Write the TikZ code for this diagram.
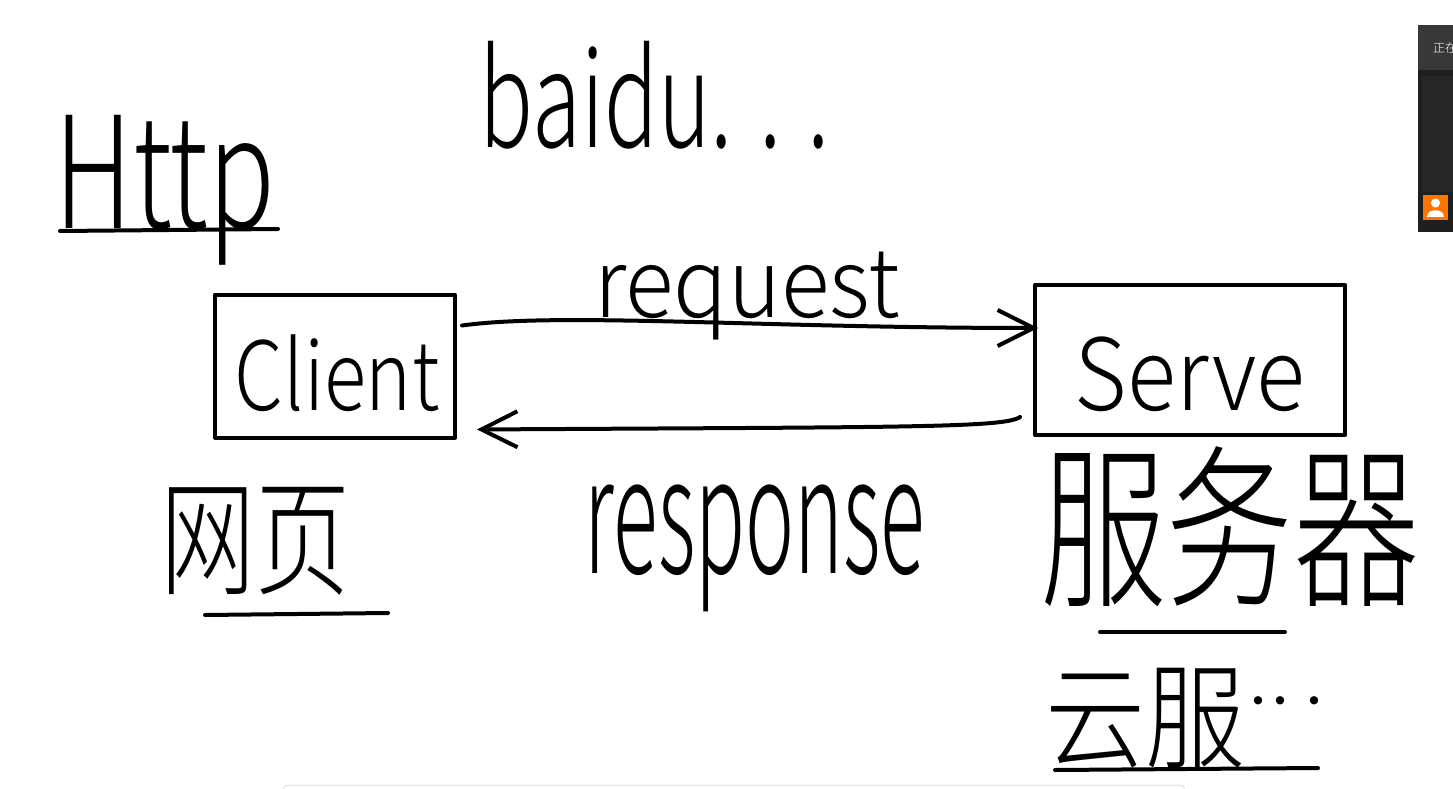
\documentclass[tikz,border=0pt]{standalone}
\usepackage{fontspec}
\usepackage{graphicx}
\newfontfamily\hand{Noto Sans CJK SC Light}
\newfontfamily\cjk{Noto Sans CJK SC Light}
\usetikzlibrary{arrows.meta,calc}
\newcommand\fitto[3]{\resizebox*{#1pt}{#2pt}{#3}}
\begin{document}
\begin{tikzpicture}[x=1pt,y=-1pt, line cap=round, line join=round,
  ink/.style={line width=4pt, draw=black},
  handtext/.style={inner sep=0pt, font=\hand},
  boxshape/.style={draw, line width=4pt, inner sep=0pt},
  barb/.style={-{Straight Barb[length=36pt,width=36pt,line width=4pt]}}]
\clip (0,0) rectangle (1453,789);
\fill[white] (0,0) rectangle (1453,789);

% texts
\node[handtext] (http) at (165,190) {\fitto{220}{150}{Http}};
\node[handtext] (baidu) at (655,95) {\fitto{350}{108}{baidu. . .}};
\node[handtext] (req) at (747,296) {\fitto{305}{88}{request}};
\node[handtext] (resp) at (755,548) {\fitto{340}{127}{response}};
\node[handtext] (wy) at (255,541) {\fitto{190}{108}{\cjk 网页}};
\node[handtext] (fwq) at (1230,527) {\fitto{380}{160}{\cjk 服务器}};
\node[handtext] (yf) at (1145,718) {\fitto{200}{100}{\cjk 云服}};
\node[handtext, anchor=west, font=\cjk\fontsize{44}{44}\selectfont] (yfdots) at (1236,707) {·\hspace{-22pt}·\hspace{-10pt}·};

% boxes
\node[boxshape, minimum width=240pt, minimum height=143pt] (client) at (335,366) {};
\node[handtext] (clienttxt) at (337,373) {\fitto{205}{77}{Client}};
\node[boxshape, minimum width=310pt, minimum height=150pt] (serve) at (1190,360) {};
\node[handtext] (servetxt) at (1190,374) {\fitto{230}{75}{Serve}};

% underlines
\coordinate (u1a) at (60,231); \coordinate (u1b) at (278,229);
\draw[ink] (u1a) -- (u1b);
\coordinate (u2a) at (205,615); \coordinate (u2b) at (388,613);
\draw[ink] (u2a) -- (u2b);
\coordinate (u3a) at (1100,632); \coordinate (u3b) at (1285,632);
\draw[ink] (u3a) -- (u3b);
\coordinate (u4a) at (1055,770); \coordinate (u4b) at (1318,768);
\draw[ink] (u4a) -- (u4b);

% arrows
\draw[ink,barb] ($(client.north east)+(5,33)$) .. controls (560,312) and (760,328) .. ($(serve.north west)+(5,45)$);
\draw[ink,barb] ($(serve.south west)+(-13,-20)$) .. controls (1005,428) and (900,427) .. ($(client.south east)+(20,-10)$);

% top-right UI panel
\fill[black!88] (1418,25) rectangle (1460,232);
\fill[black!78] (1418,25) rectangle (1460,70);
\fill[black!85] (1422,76) rectangle (1460,192);
\node[anchor=west, text=white, inner sep=0pt, font=\cjk\fontsize{12}{12}\selectfont] (uitxt) at (1433,48) {正在};
\fill[orange!90!red] (1423,195) rectangle (1448,220);
\fill[white] (1435.5,203) circle (4.5);
\fill[white] (1427,217) .. controls (1427,208) and (1444,208) .. (1444,217) -- cycle;

% bottom faint bar
\draw[black!12, line width=1pt, rounded corners=5pt] (283,785) rectangle (1185,810);
\end{tikzpicture}
\end{document}
